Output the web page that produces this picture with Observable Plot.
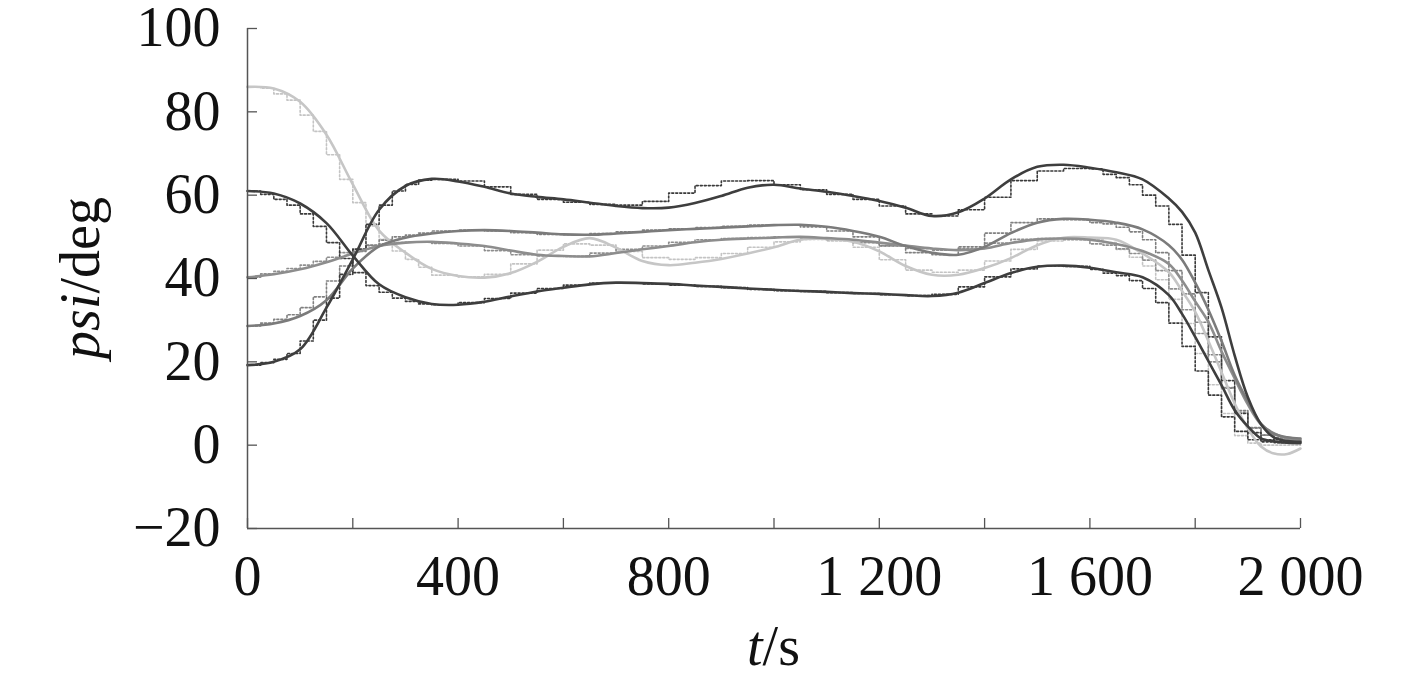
<!DOCTYPE html>
<html><head><meta charset="utf-8">
<script src="https://cdn.jsdelivr.net/npm/d3@7"></script>
<script src="https://cdn.jsdelivr.net/npm/@observablehq/plot@0.6"></script>
<style>body{margin:0;background:#fff}</style>
</head><body><div id="chart"></div>
<script>
// time grid of the solid (actual) curves, s
const t = [0,50,100,150,200,250,300,350,400,450,500,550,600,650,700,750,800,850,900,950,1000,1050,1100,1150,1200,1250,1300,1350,1400,1450,1500,1550,1600,1650,1700,1750,1775,1800,1825,1850,1875,1900,1925,1950,1975,2000];
// solid curves, psi in deg
const psiA = [19.2,20,23,33,44.6,56.5,62.2,63.9, 63.3,62,60.4,59.6,59,58.2,57.4,56.9, 57,58.1,59.8,61.8,62.5,61.6,60.8,59.8, 58.6,57,55,55.9,59.2,63.8,66.8,67.3, 66.6,65.5,63.8,59.2, 56,51,42,33,21.5,11.5,5,1.8,1.0,0.8];
const psiB = [61,60.4,58,53.3,45.5,38.6,35.5,33.9, 33.7,34.4,35.7,36.9,37.8,38.6,39,38.9, 38.7,38.3,38,37.6,37.3,37,36.8,36.5, 36.3,36,35.8,36.6,38.9,41.3,42.8,43.1, 42.6,41.5,40.3,36, 31.5,26,20.2,14.4,8.4,4.5,1.6,0.9,0.6,0.5];
const psiC = [28.6,29.2,31,34.8,42.4,47.7,49.8,50.8, 51.4,51.6,51.4,51,50.6,50.5,50.8,51.2, 51.6,51.9,52.2,52.5,52.8,52.9,52.4,51.4, 50,47.8,46.2,45.7,47.6,50.9,53.4,54.3, 54.1,53.4,51.8,48, 44.5,39,32.5,25,16.8,10.5,5.1,2.7,1.9,1.6];
const psiD = [40.3,41,42.2,43.9,46,47.8,48.6,48.8, 48.4,47.8,46.7,45.7,45.4,45.3,46.1,47, 47.8,48.7,49.3,49.6,49.8,50,49.7,49.3, 48.6,47.9,47.2,46.8,47.2,48.5,49.4,49.6, 49.3,48.3,46.6,43.5, 39.5,34.5,29.6,22.5,16,9.8,5,2.8,1.6,1.2];
const psiE = [86,85.6,82.4,74.5,62.6,51.5,46.2,42.3, 40.6,40.2,41.3,44,47.6,49.7,47.4,44.2, 43.2,43.8,44.7,46,47.5,49.3,49.5,48.8, 46.5,43,40.9,40.9,42.5,44.9,48,49.8, 49.8,49.3,46,41.5, 37,32,25,17.5,10,4,-0.3,-2,-2.1,-0.8];

// time grid of the stepped (reference) curves, s
const refT = [0,25,50,75,100,125,150,175,200,225,250,275,300,325, 350,400,450,500,550,600,650,700,750,800,850,900,950,1000,1050,1100,1150,1200,1250,1300,1350,1400,1450,1500,1550,1600, 1625,1650,1675,1700,1725,1750,1775,1800,1825,1850,1875,1900,1925,1950,1975,2000];
const refA = [19.2,19.8,20.6,22,25,30,35.3,41,47,53,57.6,61,62.6,63.6, 63.8,63.4,62,60.2,59,58.3,57.8,57.6,58.5,60.5,62.3,63.4,63.5,62.5,61.3,60.2,59,57.4,55.5,55,56.5,59.5,63.5,65.8,66.4,66.3, 65,64.2,62.5,60,57.4,53,45.6,36.6,26,15.5,7.6,3,1.3,0.9,0.8,0.8];
const refB = [61,60.2,59,57.6,55.5,52.5,48.6,44.8,41.4,38.3,36.7,35.3,34.5,33.9, 33.7,34.2,35.2,36.5,37.6,38.4,38.9,38.9,38.7,38.4,38.1,37.8,37.4,37.1,36.9,36.6,36.4,36.1,35.9,36.2,38,40.4,42.3,43,42.9,42.2, 41.3,40.7,39.5,37.6,34.2,29.3,23.7,17.8,12,6.8,3.3,1.3,0.8,0.6,0.5,0.5];
const refC = [28.6,29.3,30.2,31.3,33,35.6,39.4,43,46.5,48,49.2,50,50.4,50.9, 51.4,51.6,51.4,51,50.6,50.5,50.8,51.2,51.6,51.9,52.2,52.5,52.8,52.9,52.4,51.4,50,47.8,46.2,45.7,47.6,50.9,53.4,54.3,54.1,53.4, 53.1,52.3,51.2,49.3,46.2,41.9,36.3,29.5,21.7,13.7,8.3,4.2,2.4,1.8,1.6,1.6];
const refD = [40.3,41.1,41.7,42.4,43.2,44.1,45.1,46.2,47.1,47.9,48.3,48.6,48.7,48.8, 48.4,47.8,46.7,45.7,45.4,45.3,46.1,47,47.8,48.7,49.3,49.6,49.8,50,49.7,49.3,48.6,47.9,47.2,46.8,47.2,48.5,49.4,49.6,49.3,48.3, 48,47.1,46,44.4,41.9,37.5,32.5,26.8,20,13.8,7.9,4.1,2.4,1.5,1.2,1.2];
const refE = [86,85.7,84.3,82.8,79.2,75.3,69.7,63.8,58.2,52.6,49.4,46.6,44.6,42.7, 40.8,40.4,41,43.5,46.8,48.3,48,46.5,45,44.6,45,46,47.5,48.8,49.4,49,47.5,44.5,42,41.5,42,44.2,47,49,49.6,49.4, 48.6,47,45.1,43,39.7,35,29.2,22,14.5,7.6,2.3,0.5,0,0,0,0];

// ticks
const xTicks = [0,200,400,600,800,1000,1200,1400,1600,1800,2000];
const xLabels = [0,400,800,1200,1600,2000];
const yTicks = [-20,0,20,40,60,80,100];

const W = 1417, H = 683;
const mL = 247, mR = 117, mT = 28, mB = 155;
const frameW = W - mL - mR, frameH = H - mT - mB;
const FONT = "'Liberation Serif','Times New Roman',serif";

const solids = [
  {v: psiE, color: "#c6c6c6"},
  {v: psiD, color: "#8d8d8d"},
  {v: psiC, color: "#7b7b7b"},
  {v: psiB, color: "#3e3e3e"},
  {v: psiA, color: "#3e3e3e"}
];
const refs = [
  {v: refE, color: "#c4c4c4"},
  {v: refD, color: "#8e8e8e"},
  {v: refC, color: "#808080"},
  {v: refB, color: "#3a3a3a"},
  {v: refA, color: "#3a3a3a"}
];

const fmtX = d => d >= 1000 ? `${Math.floor(d/1000)} ${String(d%1000).padStart(3,"0")}` : String(d);
const fmtY = d => d < 0 ? "\u2212" + Math.abs(d) : String(d);

const marks = [];
refs.forEach(r => {
  marks.push(Plot.line(refT.map((x,i)=>({t:x, v:r.v[i]})), {
    x: "t", y: "v", curve: "step-after", stroke: r.color,
    strokeWidth: 1.6, strokeDasharray: "2,2"
  }));
});
solids.forEach(s => {
  marks.push(Plot.line(t.map((x,i)=>({t:x, v:s.v[i]})), {
    x: "t", y: "v", curve: "catmull-rom", stroke: s.color, strokeWidth: 2.6
  }));
});
marks.push(
  Plot.tickX(xTicks, {x: d => d, stroke: "#555", strokeWidth: 1.3, insetTop: frameH - 10}),
  Plot.tickY(yTicks, {y: d => d, stroke: "#555", strokeWidth: 1.3, insetRight: frameW - 10}),
  Plot.ruleX([0], {stroke: "#555", strokeWidth: 1.5}),
  Plot.ruleY([-20], {stroke: "#555", strokeWidth: 1.5}),
  Plot.axisX(xLabels, {tickSize: 0, tickPadding: 27, tickFormat: fmtX, fontSize: 56, fontFamily: FONT, fill: "#111", label: null}),
  Plot.axisY(yTicks, {tickSize: 0, tickPadding: 27, tickFormat: fmtY, fontSize: 56, fontFamily: FONT, fill: "#111", label: null})
);

const chart = Plot.plot({
  width: W, height: H,
  marginLeft: mL, marginRight: mR, marginTop: mT, marginBottom: mB,
  x: {domain: [0, 2000]},
  y: {domain: [-20, 100]},
  style: {background: "#fff", overflow: "visible"},
  marks
});

const svg = d3.select(chart);
const yl = svg.append("text")
  .attr("transform", "translate(99,278) rotate(-90)")
  .attr("text-anchor", "middle")
  .attr("font-family", FONT).attr("font-size", 56).attr("fill", "#111");
yl.append("tspan").attr("font-style", "italic").text("psi");
yl.append("tspan").text("/deg");
const xl = svg.append("text")
  .attr("x", (mL + W - mR) / 2).attr("y", 665)
  .attr("text-anchor", "middle")
  .attr("font-family", FONT).attr("font-size", 56).attr("fill", "#111");
xl.append("tspan").attr("font-style", "italic").text("t");
xl.append("tspan").text("/s");

document.getElementById("chart").appendChild(chart);
</script>
</body></html>
